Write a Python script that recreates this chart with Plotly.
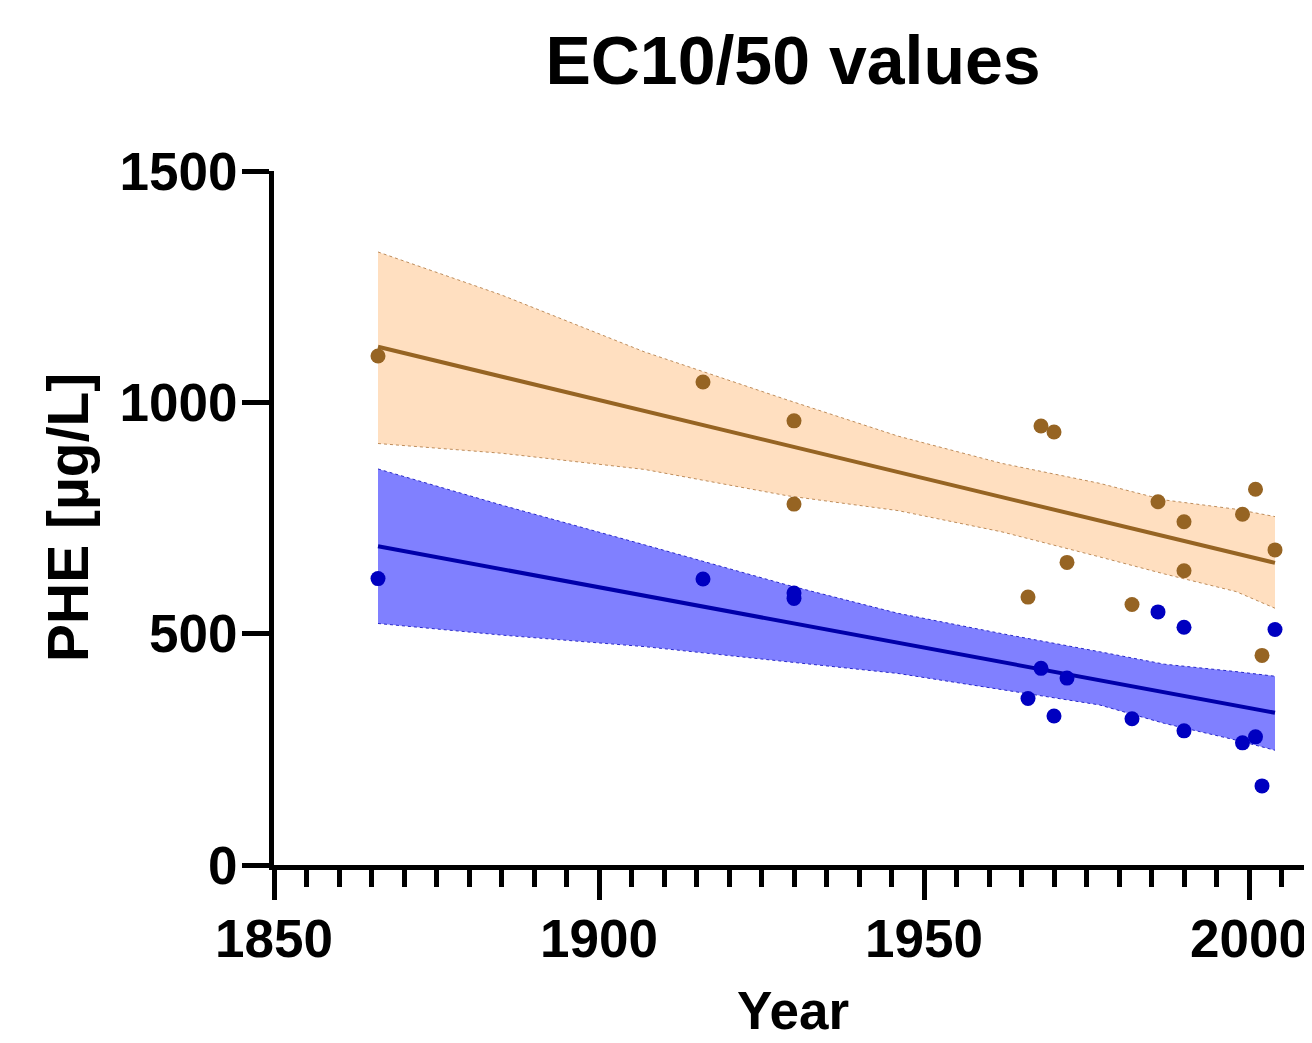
import plotly.graph_objects as go

# ---- data ----
years = [1866, 1916, 1930, 1930, 1966, 1968, 1970, 1972, 1982, 1986, 1990, 1990, 1999, 2001, 2002, 2004]
ec50 = [1100, 1044, 960, 780, 579, 949, 936, 654, 563, 785, 742, 636, 758, 812, 453, 681]
ec10 = [619, 618, 588, 576, 360, 425, 322, 404, 316, 547, 514, 290, 264, 277, 171, 509]

fit_years = [1866, 2004]
ec50_fit = [1120, 653]
ec10_fit = [689, 329]

band_years = [1866, 1885, 1907, 1929, 1946, 1962, 1977, 1987, 1998, 2004]
ec50_upper = [1325, 1232, 1109, 1005, 927, 868, 825, 789, 769, 753]
ec50_lower = [911, 890, 855, 798, 766, 720, 666, 629, 591, 555]
ec10_upper = [856, 778, 692, 605, 544, 500, 461, 434, 418, 408]
ec10_lower = [522, 497, 472, 439, 414, 379, 346, 306, 270, 248]

x_ticks = [1850, 1900, 1950, 2000]
y_ticks = [0, 500, 1000, 1500]

ORANGE_FILL = "rgb(255,223,192)"
ORANGE_EDGE = "rgb(190,140,90)"
ORANGE = "rgb(150,100,35)"
BLUE_FILL = "rgb(128,128,255)"
BLUE_EDGE = "rgb(40,40,200)"
BLUE = "rgb(0,0,192)"
BLUE_LINE = "rgb(0,0,170)"

FONT = "Liberation Sans, Arial, sans-serif"

# the page body has an 8px margin, so the figure is drawn 8px smaller
W, H = 1304, 1035

fig = go.Figure()

# confidence bands
fig.add_trace(go.Scatter(x=band_years, y=ec50_lower, mode="lines",
                         line=dict(color=ORANGE_EDGE, width=1, dash="dot"), hoverinfo="skip"))
fig.add_trace(go.Scatter(x=band_years, y=ec50_upper, mode="lines", fill="tonexty",
                         fillcolor=ORANGE_FILL,
                         line=dict(color=ORANGE_EDGE, width=1, dash="dot"), hoverinfo="skip"))
fig.add_trace(go.Scatter(x=band_years, y=ec10_lower, mode="lines",
                         line=dict(color=BLUE_EDGE, width=1, dash="dot"), hoverinfo="skip"))
fig.add_trace(go.Scatter(x=band_years, y=ec10_upper, mode="lines", fill="tonexty",
                         fillcolor=BLUE_FILL,
                         line=dict(color=BLUE_EDGE, width=1, dash="dot"), hoverinfo="skip"))

# fit lines
fig.add_trace(go.Scatter(x=fit_years, y=ec50_fit, mode="lines",
                         line=dict(color=ORANGE, width=4)))
fig.add_trace(go.Scatter(x=fit_years, y=ec10_fit, mode="lines",
                         line=dict(color=BLUE_LINE, width=4)))

# points
fig.add_trace(go.Scatter(x=years, y=ec50, mode="markers",
                         marker=dict(color=ORANGE, size=15, line=dict(width=0))))
fig.add_trace(go.Scatter(x=years, y=ec10, mode="markers",
                         marker=dict(color=BLUE, size=15, line=dict(width=0))))

axis_common = dict(
    showgrid=False, zeroline=False, showline=True, linecolor="black", linewidth=5,
    ticks="outside", tickcolor="black", tickwidth=5,
    tickfont=dict(family=FONT, size=53, color="black", weight="bold"),
)

fig.update_layout(
    width=W, height=H,
    margin=dict(l=266, r=0, t=163, b=178),
    plot_bgcolor="white", paper_bgcolor="white",
    showlegend=False,
    title=dict(text="EC10/50 values", x=0.5, xref="paper", xanchor="center",
               y=1 - 52 / H, yref="container", yanchor="middle",
               font=dict(family=FONT, size=68, color="black", weight="bold")),
    xaxis=dict(range=[1850, 1850 + (W - 266) / 6.5], tickvals=x_ticks,
               ticktext=[str(v) for v in x_ticks], ticklen=30, ticklabelstandoff=-7,
               minor=dict(dtick=5, tick0=1850, ticks="outside", ticklen=17,
                          tickwidth=5, tickcolor="black", showgrid=False),
               **axis_common),
    yaxis=dict(range=[0, 1500], tickvals=y_ticks, ticktext=[str(v) for v in y_ticks],
               ticklen=27, ticklabelstandoff=-6, **axis_common),
    annotations=[
        dict(text="Year", x=0.5, xref="paper", y=(865 - 1010) / 694, yref="paper",
             xanchor="center", yanchor="middle", showarrow=False, borderpad=0,
             font=dict(family=FONT, size=53, color="black", weight="bold")),
        dict(text="PHE [µg/L]", x=(68 - 274) / 1038, xref="paper", y=0.5, yref="paper",
             xanchor="center", yanchor="middle", textangle=-90, showarrow=False,
             font=dict(family=FONT, size=57, color="black", weight="bold")),
    ],
)

fig.write_html("out.html")
